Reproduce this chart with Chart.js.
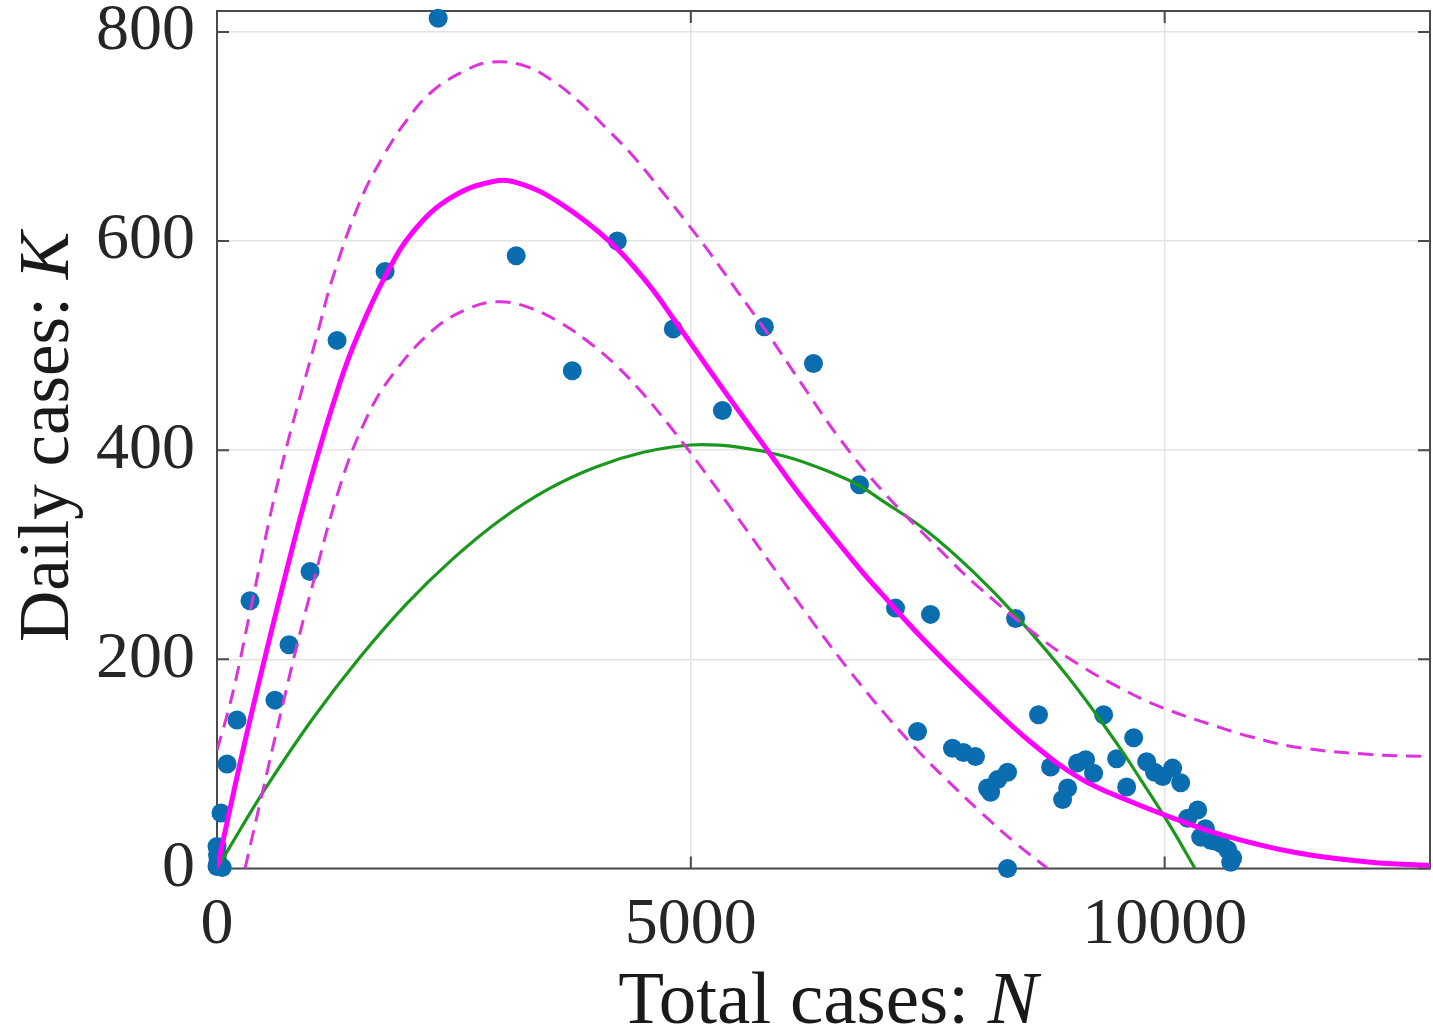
<!DOCTYPE html>
<html>
<head>
<meta charset="utf-8">
<script src="https://cdn.jsdelivr.net/npm/chart.js@4.4.0/dist/chart.umd.min.js"></script>
<style>
html,body{margin:0;padding:0;background:#fff;overflow:hidden;}
#wrap{width:1433px;height:1034px;position:relative;}
</style>
</head>
<body>
<div id="wrap"><canvas id="c"></canvas></div>
<script>
// ---- observed data: total cases N and daily cases K ----
const obsN = [0,10,5,0,55,42,106,211,348,612,760,982,1267,1774,2334,3157,3749,4224,4815,5333,5776,6294,6780,7160,7529,8427,7392,7761,7877,8004,8342,8237,8131,8163,8342,8669,8796,8976,8923,9081,9166,9250,9356,9493,9599,9673,9810,9894,9979,10084,10169,10243,10349,10380,10430,10486,10540,10591,10665,10718,10697];
const obsK = [2,6,13,21,1,53,100,142,256,161,214,284,505,571,813,586,476,600,516,438,518,483,367,249,243,239,131,115,111,107,92,85,77,73,0,147,97,77,66,101,104,91,147,105,78,125,102,92,88,96,82,48,56,30,38,27,26,24,18,10,6];

// ---- fitted model (solid magenta) ----
const fitN = [0,317,665,982,1299,1500,1774,2070,2460,2914,3200,3622,4150,4541,4815,5312,5808,6156,6769,7001,7455,8057,8585,9113,9641,10095,10612,11394,12175,12800];
const fitK = [0,130,260,370,465,513,566,609,641,657,655,636,599,560,526,462,400,357,288,264,219,165,121,86,64,48,32,15,6,3];

// ---- upper / lower bounds (dashed magenta) ----
const upperN = [0,116,222,348,665,1056,1225,1510,1753,2006,2281,2640,2883,3231,3548,3823,4118,4393,4710,4963,5206,5491,5808,6188,6579,7033,7624,8025,8722,9113,9419,9916,10612,10908,11394,12175,12800];
const upperK = [113,150,190,245,378,510,566,638,681,716,744,764,771,768,753,733,707,681,646,617,588,552,512,461,410,360,305,270,218,194,178,156,134,126,116,109,107];
const lowerN = [296,528,718,845,982,1299,1584,1859,2281,2640,2957,3273,3622,3971,4224,4467,4752,5100,5523,5871,6300,6684,7075,7423,7709,8057,8405,8765];
const lowerK = [0,92,166,214,262,366,432,473,515,535,542,537,522,500,480,457,426,385,332,288,234,188,145,110,84,54,26,0];

// ---- logistic model (green) ----
const logisN = [0,250,500,1000,1500,2000,2500,3000,3500,4000,4500,5000,5500,6000,6500,6780,7000,7500,8000,8427,9000,9500,9747,10063,10320];
const logisK = [0,38,75,142,201,253,297,334,363,384,398,405,403,394,378,366,353,322,282,242,181,119,85,40,0];

// ---- axes ----
const xTickValues = [0,5000,10000];
const yTickValues = [0,200,400,600,800];
const xRange = [0,12800];
const yRange = [0,820];
const xTitleParts = ['Total cases: ','N'];
const yTitleParts = ['Daily cases: ','K'];

const FONT = '"Liberation Serif","Times New Roman",serif';
const pts = (xs, ys) => xs.map((x, i) => ({x: x, y: ys[i]}));

const decor = {
  id: 'decor',
  beforeDatasetsDraw(chart) {
    const {ctx, chartArea: a, scales: {x, y}} = chart;
    ctx.save();
    ctx.strokeStyle = '#4a4a4a';
    ctx.lineWidth = 2;
    ctx.strokeRect(a.left, a.top, a.right - a.left, a.bottom - a.top);
    const tl = 12;
    ctx.beginPath();
    xTickValues.forEach(v => {
      const px = x.getPixelForValue(v);
      ctx.moveTo(px, a.bottom); ctx.lineTo(px, a.bottom - tl);
      ctx.moveTo(px, a.top); ctx.lineTo(px, a.top + tl);
    });
    yTickValues.forEach(v => {
      const py = y.getPixelForValue(v);
      ctx.moveTo(a.left, py); ctx.lineTo(a.left + tl, py);
      ctx.moveTo(a.right, py); ctx.lineTo(a.right - tl, py);
    });
    ctx.stroke();
    ctx.restore();
  },
  afterDraw(chart) {
    const {ctx} = chart;
    ctx.save();
    ctx.fillStyle = '#1a1a1a';
    ctx.textBaseline = 'alphabetic';
    ctx.textAlign = 'left';
    // x title
    const xs = 75;
    const xu = xs + 'px ' + FONT, xi = 'italic ' + xs + 'px ' + FONT;
    ctx.font = xu; const w1 = ctx.measureText(xTitleParts[0]).width;
    ctx.font = xi; const w2 = ctx.measureText(xTitleParts[1]).width;
    const cx = 828;
    const sx = cx - (w1 + w2) / 2;
    const by = 1023;
    ctx.font = xu; ctx.fillText(xTitleParts[0], sx, by);
    ctx.font = xi; ctx.fillText(xTitleParts[1], sx + w1, by);
    // y title
    const ys = 71;
    const yu = ys + 'px ' + FONT, yi = 'italic ' + ys + 'px ' + FONT;
    ctx.font = yu; const v1 = ctx.measureText(yTitleParts[0]).width;
    ctx.font = yi; const v2 = ctx.measureText(yTitleParts[1]).width;
    ctx.translate(68, 437);
    ctx.rotate(-Math.PI / 2);
    const s2 = -(v1 + v2) / 2;
    ctx.font = yu; ctx.fillText(yTitleParts[0], s2, 0);
    ctx.font = yi; ctx.fillText(yTitleParts[1], s2 + v1, 0);
    ctx.restore();
  }
};

const lineDs = (label, xs, ys, color, width, dash, order) => ({
  label: label,
  data: pts(xs, ys),
  showLine: true,
  borderColor: color,
  backgroundColor: color,
  borderWidth: width,
  borderDash: dash,
  pointRadius: 0,
  pointHoverRadius: 0,
  tension: 0.4,
  fill: false,
  order: order
});

new Chart(document.getElementById('c'), {
  type: 'scatter',
  data: {
    datasets: [
      lineDs('Model fit', fitN, fitK, '#FF00FF', 5, [], 0),
      lineDs('Upper bound', upperN, upperK, '#DD33DD', 3, [15, 9], 1),
      lineDs('Lower bound', lowerN, lowerK, '#DD33DD', 3, [15, 9], 1),
      lineDs('Logistic', logisN, logisK, '#1A981E', 3.2, [], 2),
      {
        label: 'Data',
        data: pts(obsN, obsK),
        pointRadius: 9.5,
        pointHoverRadius: 9.5,
        pointBackgroundColor: '#0A6DB0',
        pointBorderWidth: 0,
        showLine: false,
        clip: false,
        order: 3
      }
    ]
  },
  options: {
    animation: false,
    responsive: true,
    maintainAspectRatio: false,
    layout: {autoPadding: false, padding: {left: 0, right: 3, top: 11, bottom: 0}},
    plugins: {legend: {display: false}, tooltip: {enabled: false}},
    scales: {
      x: {
        type: 'linear',
        min: xRange[0], max: xRange[1],
        afterBuildTicks: s => { s.ticks = xTickValues.map(v => ({value: v})); },
        afterFit: s => { s.height = 165.5; s.paddingLeft = 0; s.paddingRight = 0; },
        grid: {color: '#e3e3e3', lineWidth: 1.5, drawTicks: false},
        border: {display: false},
        ticks: {padding: 18, color: '#262626', font: {family: FONT, size: 66}, maxRotation: 0, autoSkip: false, callback: v => String(v)}
      },
      y: {
        type: 'linear',
        min: yRange[0], max: yRange[1],
        afterBuildTicks: s => { s.ticks = yTickValues.map(v => ({value: v})); },
        afterFit: s => { s.width = 217; s.paddingTop = 0; s.paddingBottom = 0; },
        grid: {color: '#e3e3e3', lineWidth: 1.5, drawTicks: false},
        border: {display: false},
        ticks: {padding: 22, color: '#262626', font: {family: FONT, size: 66}, autoSkip: false, callback: v => String(v)}
      }
    }
  },
  plugins: [decor]
});
</script>
</body>
</html>
